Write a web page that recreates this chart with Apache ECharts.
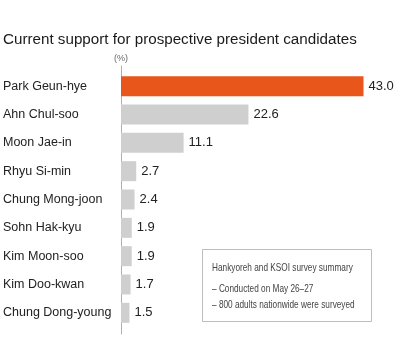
<!DOCTYPE html>
<html><head><meta charset="utf-8">
<script src="https://cdn.jsdelivr.net/npm/echarts@6/dist/echarts.min.js"></script>
<style>html,body{margin:0;padding:0;background:#fff}#c{width:400px;height:342px}</style>
</head><body><div id="c"></div>
<script>
var title = "Current support for prospective president candidates";
var unitLabel = "(%)";
var categories = ["Park Geun-hye","Ahn Chul-soo","Moon Jae-in","Rhyu Si-min","Chung Mong-joon","Sohn Hak-kyu","Kim Moon-soo","Kim Doo-kwan","Chung Dong-young"];
var values = [43.0,22.6,11.1,2.7,2.4,1.9,1.9,1.7,1.5];
var noteLines = ["Hankyoreh and KSOI survey summary","– Conducted on May 26–27","– 800 adults nationwide were surveyed"];

var font = "'Liberation Sans', Arial, sans-serif";
var chart = echarts.init(document.getElementById('c'));
function noteText(t, y){
  return {type:'text',x:212,y:y,scaleX:0.81,scaleY:1,
    style:{text:t,fontFamily:font,fontSize:10.2,fill:'#444',textVerticalAlign:'middle'}};
}
chart.setOption({
  animation:false,
  backgroundColor:'#fff',
  title:{text:title,left:3,top:32,padding:0,textStyle:{fontFamily:font,fontSize:15.2,fontWeight:'normal',color:'#1a1a1a'}},
  grid:[
    {left:121,top:72,height:255,width:242.5,containLabel:false},
    {left:121,top:66,bottom:8,width:100,containLabel:false}
  ],
  xAxis:[
    {gridIndex:0,type:'value',min:0,max:43,show:false},
    {gridIndex:1,type:'value',show:false}
  ],
  yAxis:[
    {gridIndex:0,type:'category',inverse:true,data:categories,
     axisLine:{show:false},axisTick:{show:false},
     axisLabel:{align:'left',margin:118,fontFamily:font,fontSize:12.5,color:'#222'}},
    {gridIndex:1,type:'value',min:0,max:1,axisLine:{show:true,lineStyle:{color:'#b0b0b0',width:1}},
     axisTick:{show:false},axisLabel:{show:false},splitLine:{show:false},
     name:unitLabel,nameLocation:'end',nameGap:3,nameTextStyle:{fontFamily:font,fontSize:9,color:'#666'}}
  ],
  series:[{
    type:'bar',xAxisIndex:0,yAxisIndex:0,barWidth:20,
    data:values.map(function(v,i){return {value:v,itemStyle:{color:i===0?'#e8561b':'#cfcfcf'}};}),
    label:{show:true,position:'right',distance:5,fontFamily:font,fontSize:13,color:'#222',
      formatter:function(p){return p.value.toFixed(1);}}
  }],
  graphic:[
    {type:'rect',shape:{x:202.5,y:249.5,width:169,height:72},style:{fill:'#fff',stroke:'#bdbdbd',lineWidth:1}},
    noteText(noteLines[0],268.5),
    noteText(noteLines[1],289.5),
    noteText(noteLines[2],305)
  ]
});
</script></body></html>
